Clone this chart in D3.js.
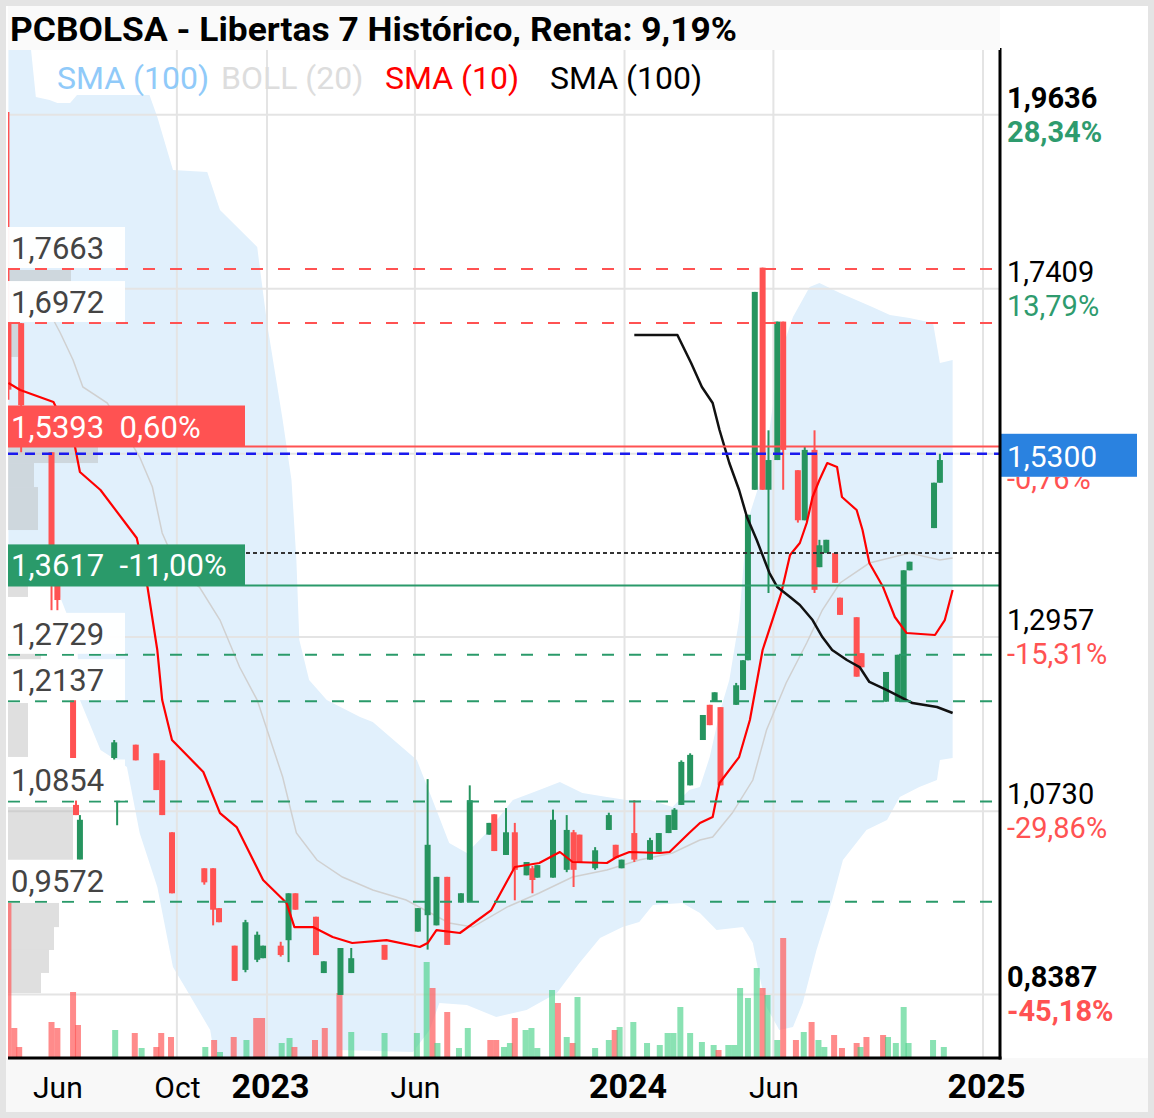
<!DOCTYPE html>
<html><head><meta charset="utf-8">
<script src="https://cdn.jsdelivr.net/npm/d3@7"></script>
<style>
html,body{margin:0;padding:0;background:#fff;}
svg{display:block;font-family:Roboto,"Noto Sans",sans-serif;}
</style></head>
<body>
<svg id="chart" width="1154" height="1118"></svg>
<script>
// ---------------- DATA ----------------
const title = "PCBOLSA - Libertas 7 Histórico, Renta: 9,19%";
const legendItems = [
  {label: "SMA (100)", color: "#90caf9"},
  {label: "BOLL (20)", color: "#dddddd"},
  {label: "SMA (10)",  color: "#ff0000"},
  {label: "SMA (100)", color: "#000000"}
];
const tickDates  = ["2022-06-01","2022-10-01","2023-01-01","2023-06-01","2024-01-01","2024-06-01","2025-01-01"];
const tickLabels = ["Jun","Oct","2023","Jun","2024","Jun","2025"];

// [date, open, high, low, close]
const candles = [
 ["2022-04-12",1.700,1.967,1.599,1.612],
 ["2022-04-25",1.697,1.697,1.532,1.592],
 ["2022-05-26",1.532,1.532,1.330,1.365],
 ["2022-06-01",1.371,1.375,1.330,1.343],
 ["2022-06-17",1.215,1.215,1.141,1.141],
 ["2022-06-20",1.081,1.087,1.068,1.068],
 ["2022-06-24",1.011,1.068,1.011,1.062],
 ["2022-07-29",1.141,1.164,1.138,1.161],
 ["2022-08-01",1.085,1.087,1.055,1.087],
 ["2022-08-20",1.158,1.158,1.138,1.138],
 ["2022-09-10",1.147,1.147,1.100,1.100],
 ["2022-09-16",1.138,1.138,1.068,1.068],
 ["2022-09-26",1.046,1.046,0.968,0.968],
 ["2022-10-29",1.000,1.000,0.979,0.982],
 ["2022-11-07",1.000,1.000,0.927,0.947],
 ["2022-11-13",0.949,0.949,0.931,0.931],
 ["2022-11-29",0.901,0.901,0.856,0.856],
 ["2022-12-10",0.870,0.934,0.867,0.931],
 ["2022-12-22",0.883,0.919,0.880,0.915],
 ["2022-12-28",0.885,0.901,0.885,0.901],
 ["2023-01-15",0.901,0.906,0.887,0.889],
 ["2023-01-23",0.908,0.968,0.880,0.968],
 ["2023-01-30",0.968,0.968,0.947,0.947],
 ["2023-02-20",0.938,0.938,0.889,0.889],
 ["2023-02-28",0.866,0.881,0.866,0.881],
 ["2023-03-17",0.838,0.898,0.838,0.898],
 ["2023-03-28",0.866,0.898,0.866,0.885],
 ["2023-05-01",0.902,0.902,0.883,0.883],
 ["2023-06-04",0.919,0.949,0.919,0.949],
 ["2023-06-14",0.940,1.114,0.896,1.030],
 ["2023-06-23",0.927,0.989,0.927,0.989],
 ["2023-07-04",0.989,0.989,0.902,0.902],
 ["2023-07-18",0.956,0.968,0.956,0.968],
 ["2023-07-27",0.957,1.106,0.957,1.087],
 ["2023-08-16",1.043,1.058,1.043,1.058],
 ["2023-08-21",1.069,1.069,1.022,1.022],
 ["2023-09-02",1.017,1.077,1.017,1.046],
 ["2023-09-11",1.046,1.058,0.959,0.998],
 ["2023-09-23",0.991,1.008,0.991,1.008],
 ["2023-09-29",1.000,1.003,0.968,0.985],
 ["2023-10-04",0.988,1.004,0.988,1.004],
 ["2023-10-20",0.988,1.075,0.988,1.062],
 ["2023-11-03",0.998,1.068,0.995,1.049],
 ["2023-11-10",1.046,1.049,0.976,0.998],
 ["2023-11-16",1.043,1.043,1.008,1.008],
 ["2023-12-02",1.000,1.027,0.998,1.023],
 ["2023-12-16",1.049,1.071,1.049,1.068],
 ["2023-12-23",1.030,1.030,1.013,1.013],
 ["2023-12-29",1.000,1.011,1.000,1.011],
 ["2024-01-11",1.045,1.087,1.008,1.011],
 ["2024-01-27",1.011,1.039,1.011,1.036],
 ["2024-02-05",1.021,1.045,1.021,1.045],
 ["2024-02-15",1.045,1.068,1.045,1.068],
 ["2024-02-21",1.049,1.077,1.049,1.075],
 ["2024-02-28",1.081,1.138,1.081,1.136],
 ["2024-03-08",1.106,1.147,1.106,1.145],
 ["2024-03-21",1.164,1.196,1.164,1.196],
 ["2024-03-28",1.209,1.209,1.183,1.183],
 ["2024-04-02",1.213,1.225,1.213,1.225],
 ["2024-04-08",1.206,1.206,1.106,1.106],
 ["2024-04-24",1.209,1.237,1.209,1.234],
 ["2024-05-01",1.228,1.266,1.228,1.266],
 ["2024-05-06",1.266,1.452,1.266,1.452],
 ["2024-05-13",1.484,1.737,1.484,1.737],
 ["2024-05-21",1.768,1.768,1.484,1.484],
 ["2024-05-27",1.484,1.560,1.352,1.522],
 ["2024-06-05",1.522,1.699,1.522,1.699],
 ["2024-06-11",1.699,1.699,1.484,1.535],
 ["2024-06-26",1.509,1.509,1.442,1.445],
 ["2024-07-03",1.445,1.539,1.445,1.535],
 ["2024-07-13",1.535,1.560,1.352,1.356],
 ["2024-07-18",1.385,1.420,1.385,1.413],
 ["2024-07-25",1.403,1.420,1.403,1.420],
 ["2024-08-03",1.403,1.403,1.365,1.365],
 ["2024-08-08",1.346,1.346,1.324,1.324],
 ["2024-08-25",1.321,1.321,1.245,1.245],
 ["2024-08-30",1.275,1.275,1.257,1.257],
 ["2024-09-24",1.213,1.251,1.213,1.251],
 ["2024-10-06",1.213,1.273,1.213,1.273],
 ["2024-10-12",1.213,1.381,1.213,1.381],
 ["2024-10-18",1.381,1.392,1.381,1.392],
 ["2024-11-12",1.435,1.493,1.435,1.493],
 ["2024-11-18",1.493,1.530,1.493,1.522]
];

// [date, volume, direction(1 up / -1 down)]
const volumes = [
 ["2022-04-12",15500,-1],["2022-04-18",3000,-1],["2022-04-23",1100,-1],["2022-05-26",3600,-1],
 ["2022-06-01",3000,-1],["2022-06-17",6600,-1],["2022-06-22",3300,-1],["2022-07-30",2800,1],
 ["2022-08-19",2500,-1],["2022-08-26",1000,1],["2022-09-10",1100,-1],["2022-09-15",2500,-1],
 ["2022-09-25",2100,-1],["2022-10-30",1100,1],["2022-11-08",1800,-1],["2022-11-14",600,1],
 ["2022-11-28",2100,-1],["2022-12-11",1800,1],["2022-12-21",4000,-1],["2022-12-27",4000,-1],
 ["2023-01-16",1500,1],["2023-01-24",2000,1],["2023-01-29",1100,-1],["2023-02-19",1800,-1],
 ["2023-03-01",3000,-1],["2023-03-16",6500,-1],["2023-03-28",2600,1],["2023-05-01",2500,1],
 ["2023-06-03",2500,1],["2023-06-13",9600,1],["2023-06-19",7000,-1],["2023-06-24",1500,1],
 ["2023-07-04",4600,-1],["2023-07-16",1000,1],["2023-07-25",3000,1],["2023-08-17",1800,-1],
 ["2023-08-23",1800,-1],["2023-08-31",1100,1],["2023-09-06",1500,1],["2023-09-11",4000,-1],
 ["2023-09-22",2800,1],["2023-09-28",3000,1],["2023-10-04",1000,1],["2023-10-19",6800,1],
 ["2023-10-25",5500,-1],["2023-11-03",2100,1],["2023-11-09",1500,-1],["2023-11-14",6100,1],
 ["2023-12-02",1000,1],["2023-12-16",1800,1],["2023-12-22",2800,-1],["2023-12-27",3100,1],
 ["2024-01-10",3600,1],["2024-01-24",1500,1],["2024-02-06",1300,1],["2024-02-14",2500,1],
 ["2024-02-20",2500,1],["2024-02-27",5100,1],["2024-03-08",2500,1],["2024-03-20",1600,1],
 ["2024-04-01",1300,1],["2024-04-06",800,-1],["2024-04-16",1300,1],["2024-04-22",1300,1],
 ["2024-04-28",7000,1],["2024-05-06",6000,1],["2024-05-15",9000,1],["2024-05-21",7000,-1],
 ["2024-05-26",6300,1],["2024-06-05",1800,1],["2024-06-11",12000,-1],["2024-06-24",1800,-1],
 ["2024-07-02",2600,1],["2024-07-10",3600,-1],["2024-07-17",1800,1],["2024-07-23",1100,1],
 ["2024-08-02",2300,-1],["2024-08-10",1000,-1],["2024-08-25",1500,-1],["2024-08-29",1100,1],
 ["2024-09-04",2100,-1],["2024-09-21",2300,-1],["2024-09-26",2100,1],["2024-10-04",1500,1],
 ["2024-10-12",5100,1],["2024-10-17",1500,1],["2024-11-11",1800,1],["2024-11-22",1100,1]
];

const sma10 = [
 ["2022-04-12",1.6205],["2022-04-24",1.6116],["2022-05-28",1.5962],["2022-06-19",1.5387],
 ["2022-06-24",1.5067],["2022-07-15",1.4837],["2022-08-21",1.4223],["2022-09-01",1.3596],
 ["2022-09-11",1.2791],["2022-09-16",1.2151],["2022-09-26",1.1640],["2022-10-28",1.1231],
 ["2022-11-14",1.0706],["2022-12-01",1.0527],["2022-12-28",0.9850],["2023-01-21",0.9555],
 ["2023-01-29",0.9248],["2023-02-17",0.9248],["2023-03-09",0.9121],["2023-03-29",0.9044],
 ["2023-05-03",0.9082],["2023-06-06",0.8993],["2023-06-14",0.9044],["2023-06-23",0.9210],
 ["2023-07-17",0.9172],["2023-08-18",0.9466],["2023-09-11",1.0016],["2023-10-06",1.0067],
 ["2023-10-27",1.0208],["2023-11-09",1.0080],["2023-12-14",1.0067],["2023-12-24",1.0144],
 ["2024-01-06",1.0208],["2024-02-06",1.0195],["2024-02-16",1.0208],["2024-03-07",1.0451],
 ["2024-03-18",1.0578],["2024-03-31",1.0655],["2024-04-07",1.1090],["2024-04-27",1.1422],
 ["2024-05-08",1.1896],["2024-05-21",1.2791],["2024-05-31",1.3174],["2024-06-09",1.3520],
 ["2024-06-18",1.4006],["2024-06-28",1.4159],["2024-07-05",1.4415],["2024-07-11",1.4747],
 ["2024-07-18",1.4965],["2024-07-26",1.5182],["2024-08-05",1.5131],["2024-08-10",1.4747],
 ["2024-08-25",1.4581],["2024-08-31",1.4325],["2024-09-07",1.3903],["2024-09-21",1.3596],
 ["2024-10-03",1.3213],["2024-10-15",1.3008],["2024-11-13",1.2983],["2024-11-23",1.3174],
 ["2024-12-01",1.3558]
];

const sma100 = [
 ["2024-01-11",1.6819],["2024-02-24",1.6819],["2024-03-09",1.6461],["2024-03-20",1.6154],
 ["2024-03-31",1.5949],["2024-04-07",1.5604],["2024-04-17",1.5182],["2024-04-27",1.4837],
 ["2024-05-05",1.4492],["2024-05-15",1.4197],["2024-05-28",1.3775],["2024-06-05",1.3596],
 ["2024-06-18",1.3469],["2024-06-28",1.3366],["2024-07-11",1.3174],["2024-07-21",1.2957],
 ["2024-07-31",1.2791],["2024-08-15",1.2663],["2024-08-28",1.2573],["2024-09-07",1.2382],
 ["2024-09-25",1.2279],["2024-10-11",1.2177],["2024-10-21",1.2113],["2024-11-15",1.2062],
 ["2024-12-01",1.1985]
];

const bollMid = [
 ["2022-05-28",1.7011],["2022-06-04",1.6845],["2022-06-17",1.6499],["2022-06-27",1.6154],
 ["2022-07-22",1.5949],["2022-08-24",1.5259],["2022-09-06",1.4875],["2022-09-16",1.4287],
 ["2022-10-04",1.3775],["2022-10-24",1.3596],["2022-11-14",1.3174],["2022-12-04",1.2573],
 ["2022-12-22",1.2151],["2023-01-17",1.1167],["2023-01-31",1.0451],["2023-02-21",1.0105],
 ["2023-03-19",0.9888],["2023-04-19",0.9722],["2023-05-23",0.9594],["2023-07-06",0.9300],
 ["2023-07-30",0.9248],["2023-09-03",0.9504],["2023-10-06",0.9683],["2023-11-09",0.9888],
 ["2023-12-14",0.9977],["2024-01-16",1.0105],["2024-02-19",1.0195],["2024-03-18",1.0361],
 ["2024-03-31",1.0399],["2024-04-20",1.0706],["2024-05-11",1.1128],["2024-05-25",1.1768],
 ["2024-06-14",1.2369],["2024-07-05",1.2880],["2024-07-21",1.3302],["2024-08-08",1.3648],
 ["2024-09-07",1.3903],["2024-10-18",1.4031],["2024-11-18",1.3942],["2024-12-01",1.3967]
];

const bollUpper = [
 ["2022-04-12",2.06],["2022-05-04",2.06],["2022-05-10",1.9863],["2022-05-24",1.9824],
 ["2022-06-01",1.9786],["2022-06-14",1.9786],["2022-06-21",1.9888],["2022-09-03",1.9888],
 ["2022-09-11",1.9607],["2022-09-27",1.8929],["2022-11-01",1.8903],["2022-11-14",1.8417],
 ["2022-12-22",1.7944],["2022-12-25",1.7650],["2023-01-01",1.6972],["2023-01-17",1.5732],
 ["2023-01-26",1.4965],["2023-01-31",1.3942],["2023-02-03",1.2919],["2023-02-13",1.2407],
 ["2023-03-03",1.2151],["2023-04-06",1.1934],["2023-04-19",1.1870],["2023-06-03",1.1384],
 ["2023-06-19",1.0873],["2023-07-06",1.0323],["2023-07-24",1.0195],["2023-08-13",1.0451],
 ["2023-09-09",1.0873],["2023-10-06",1.1000],["2023-10-27",1.1103],["2023-11-19",1.0962],
 ["2023-12-14",1.0911],["2024-01-03",1.0873],["2024-01-27",1.0873],["2024-02-19",1.0783],
 ["2024-03-07",1.1000],["2024-03-18",1.1039],["2024-03-28",1.1422],["2024-04-07",1.1985],
 ["2024-04-17",1.2407],["2024-04-27",1.3174],["2024-05-05",1.4415],["2024-05-18",1.4926],
 ["2024-05-28",1.5604],["2024-06-07",1.6538],["2024-06-21",1.7049],["2024-07-08",1.7433],
 ["2024-07-18",1.7484],["2024-08-08",1.7356],["2024-09-10",1.7177],["2024-09-28",1.7075],
 ["2024-10-18",1.7036],["2024-11-11",1.6972],["2024-11-18",1.6461],["2024-12-01",1.6499]
];

const bollLower = [
 ["2022-04-12",1.3942],["2022-05-14",1.3750],["2022-06-01",1.3558],["2022-06-21",1.2919],
 ["2022-06-24",1.2151],["2022-07-15",1.1512],["2022-08-11",1.1295],["2022-08-24",1.0451],
 ["2022-09-11",0.9760],["2022-09-27",0.8737],["2022-10-11",0.8443],["2022-11-04",0.7931],
 ["2022-11-14",0.7164],["2023-03-06",0.7164],["2023-03-16",0.7676],["2023-05-30",0.7650],
 ["2023-06-16",0.7931],["2023-06-26",0.8277],["2023-07-24",0.8251],["2023-08-23",0.8098],
 ["2023-09-23",0.8187],["2023-10-24",0.8404],["2023-11-16",0.8788],["2023-12-07",0.9108],
 ["2023-12-30",0.9248],["2024-01-16",0.9312],["2024-01-30",0.9530],["2024-02-29",0.9555],
 ["2024-03-18",0.9428],["2024-04-04",0.9210],["2024-05-01",0.9248],["2024-05-11",0.9044],
 ["2024-05-18",0.8609],["2024-05-25",0.8225],["2024-06-07",0.7931],["2024-06-21",0.7970],
 ["2024-07-01",0.8277],["2024-07-15",0.8954],["2024-07-31",0.9594],["2024-08-11",1.0105],
 ["2024-09-04",1.0489],["2024-09-25",1.0617],["2024-10-08",1.0911],["2024-10-28",1.1039],
 ["2024-11-15",1.1128],["2024-11-18",1.1384],["2024-12-01",1.1410]
];

// volume-by-price profile: [price high, price low, volume]
const profile = [
 [1.7650,1.7497,63],[1.6972,1.6538,10],[1.5412,1.5182,90],[1.5182,1.4875,26],
 [1.4875,1.4325,30],[1.3724,1.3469,20],[1.2791,1.2663,33],[1.2113,1.1423,20],
 [1.0783,1.0105,65],[0.9556,0.9248,51],[0.9248,0.8955,46],[0.8955,0.8661,41],
 [0.8661,0.8404,33]
];

const resistLevels = [1.7663, 1.6972];
const supportLevels = [1.2729, 1.2137, 1.0854, 0.9572];
const lastPrice = 1.5300;
const refRed   = {value: 1.5393, pct: "0,60%"};
const refGreen = {value: 1.3617, pct: "-11,00%"};
const dottedLevel = 1.4031;

// right axis labels
const rightValues = [1.9636, 1.7409, 1.5300, 1.2957, 1.0730, 0.8387];
const rightPcts   = ["28,34%","13,79%","-0,76%","-15,31%","-29,86%","-45,18%"];
const rightBold   = [true,false,false,false,false,true];

// ---------------- DRAW ----------------
const W = 1154, H = 1118;
const L = 8, R = 1000, T = 50, B = 1058;
const parse = d3.utcParse("%Y-%m-%d");
const GREEN = "#26945f", RED = "#ff5252";
const fmt = v => v.toFixed(4).replace(".", ",");

const x = d3.scaleUtc().domain([parse("2023-01-01"), parse("2025-01-01")]).range([267, 983]);
const y = d3.scaleLinear().domain([0.8387, 1.9636]).range([994.4, 114.7]);
const yv = d3.scaleLinear().domain([0, 16000]).range([B, B - 160]);
const xp = d3.scaleLinear().domain([0, 100]).range([L, L + 100]);

const svg = d3.select("#chart");
// frame
svg.append("rect").attr("width", W).attr("height", H).attr("fill", "#e4e4e4");
svg.append("rect").attr("x", 6).attr("y", 6).attr("width", W - 12).attr("height", H - 12).attr("fill", "#fff");
svg.append("rect").attr("x", 6).attr("y", B).attr("width", W - 12).attr("height", H - 6 - B).attr("fill", "#f8f8f8");

const defs = svg.append("defs");
defs.append("clipPath").attr("id", "plotclip").append("rect")
  .attr("x", L).attr("y", T).attr("width", R - L).attr("height", B - T);

const plot = svg.append("g").attr("clip-path", "url(#plotclip)");

// Bollinger band fill
const bandPts = bollUpper.map(d => [x(parse(d[0])), y(d[1])])
  .concat(bollLower.slice().reverse().map(d => [x(parse(d[0])), y(d[1])]));
plot.append("path").attr("d", d3.line()(bandPts) + "Z").attr("fill", "#e1f0fc");

// grid
plot.selectAll(".hg").data(rightValues).join("line")
  .attr("x1", L).attr("x2", R).attr("y1", d => y(d)).attr("y2", d => y(d))
  .attr("stroke", "#e4e4e4").attr("stroke-width", 2);
plot.selectAll(".vg").data(tickDates.slice(1)).join("line")
  .attr("x1", d => x(parse(d))).attr("x2", d => x(parse(d))).attr("y1", T).attr("y2", B)
  .attr("stroke", "#e4e4e4").attr("stroke-width", 2);

// volume profile
plot.selectAll(".prof").data(profile).join("rect")
  .attr("x", L).attr("y", d => y(d[0])).attr("width", d => xp(d[2]) - L)
  .attr("height", d => y(d[1]) - y(d[0]))
  .attr("fill", "#b8b8b8").attr("opacity", 0.45);

// volume bars
plot.selectAll(".vol").data(volumes).join("rect")
  .attr("x", d => x(parse(d[0])) - 3).attr("width", 6)
  .attr("y", d => yv(d[1])).attr("height", d => B - yv(d[1]))
  .attr("fill", d => d[2] > 0 ? "#3ccf80" : "#ff5a5a")
  .attr("opacity", d => d[2] > 0 ? 0.6 : 0.7);

// boll middle line
const lineGen = d3.line().x(d => x(parse(d[0]))).y(d => y(d[1]));
plot.append("path").attr("d", lineGen(bollMid)).attr("fill", "none")
  .attr("stroke", "#d0d0d0").attr("stroke-width", 1.5);

// candles
const cg = plot.append("g");
cg.selectAll(".wick").data(candles).join("line")
  .attr("x1", d => x(parse(d[0]))).attr("x2", d => x(parse(d[0])))
  .attr("y1", d => y(d[2])).attr("y2", d => y(d[3]))
  .attr("stroke", d => d[4] >= d[1] ? GREEN : RED).attr("stroke-width", 2);
cg.selectAll(".body").data(candles).join("rect")
  .attr("x", d => x(parse(d[0])) - 3).attr("width", 6)
  .attr("y", d => y(Math.max(d[1], d[4])))
  .attr("height", d => Math.max(2, Math.abs(y(d[1]) - y(d[4]))))
  .attr("fill", d => d[4] >= d[1] ? GREEN : RED);

// SMA lines
plot.append("path").attr("d", lineGen(sma10)).attr("fill", "none")
  .attr("stroke", "#ff0000").attr("stroke-width", 2.2).attr("stroke-linejoin", "round");
plot.append("path").attr("d", lineGen(sma100)).attr("fill", "none")
  .attr("stroke", "#111").attr("stroke-width", 2.5).attr("stroke-linejoin", "round");

// level lines
plot.selectAll(".res").data(resistLevels).join("line")
  .attr("x1", L).attr("x2", R).attr("y1", d => y(d)).attr("y2", d => y(d))
  .attr("stroke", "#ff5252").attr("stroke-width", 2).attr("stroke-dasharray", "12,15");
plot.selectAll(".sup").data(supportLevels).join("line")
  .attr("x1", L).attr("x2", R).attr("y1", d => y(d)).attr("y2", d => y(d))
  .attr("stroke", "#2a9a6a").attr("stroke-width", 2).attr("stroke-dasharray", "12,15");
plot.append("line").attr("x1", L).attr("x2", R).attr("y1", y(dottedLevel)).attr("y2", y(dottedLevel))
  .attr("stroke", "#333").attr("stroke-width", 2).attr("stroke-dasharray", "4,3");
plot.append("line").attr("x1", L).attr("x2", R).attr("y1", y(refRed.value)).attr("y2", y(refRed.value))
  .attr("stroke", "#ff5252").attr("stroke-width", 2);
plot.append("line").attr("x1", L).attr("x2", R).attr("y1", y(refGreen.value)).attr("y2", y(refGreen.value))
  .attr("stroke", "#2a9a6a").attr("stroke-width", 2);
plot.append("line").attr("x1", L).attr("x2", R).attr("y1", y(lastPrice)).attr("y2", y(lastPrice))
  .attr("stroke", "#1a1aee").attr("stroke-width", 2.5).attr("stroke-dasharray", "10,7");

// level labels (left)
const lvlLabels = resistLevels.concat(supportLevels);
const lg = svg.append("g");
lg.selectAll("rect").data(lvlLabels).join("rect")
  .attr("x", L).attr("width", 117).attr("y", d => y(d) - 42).attr("height", 41)
  .attr("fill", "#fff").attr("opacity", 0.95);
lg.selectAll("text").data(lvlLabels).join("text")
  .attr("x", 11).attr("y", d => y(d) - 10).text(d => fmt(d))
  .attr("font-size", 31).attr("fill", "#444");

// reference boxes
[[refRed, "#ff5252"], [refGreen, "#2a9a6a"]].forEach(([r, c]) => {
  const yy = y(r.value);
  svg.append("rect").attr("x", L).attr("y", yy - 41).attr("width", 237).attr("height", 41).attr("fill", c);
  svg.append("text").attr("x", 11).attr("y", yy - 9).attr("font-size", 31).attr("fill", "#fff")
    .attr("xml:space", "preserve").text(fmt(r.value) + "  " + r.pct);
});

// right axis labels
const ra = svg.append("g");
defs.append("clipPath").attr("id", "pctclip").append("rect")
  .attr("x", R).attr("y", y(lastPrice) + 23).attr("width", 154).attr("height", 40);
rightValues.forEach((v, i) => {
  const yy = y(v);
  const col = i < 2 ? "#2e9b6e" : "#ff5252";
  const bw = rightBold[i] ? "bold" : "normal";
  if (v === lastPrice) {
    ra.append("text").attr("x", 1007).attr("y", yy + 35).attr("font-size", 29)
      .attr("fill", col).attr("clip-path", "url(#pctclip)").text(rightPcts[i]);
    ra.append("rect").attr("x", 1000).attr("y", yy - 20).attr("width", 137).attr("height", 43).attr("fill", "#2a82e0");
    ra.append("text").attr("x", 1007).attr("y", yy + 13).attr("font-size", 30).attr("fill", "#fff").text(fmt(v));
  } else {
    ra.append("text").attr("x", 1007).attr("y", yy + 27).attr("font-size", 29)
      .attr("font-weight", bw).attr("fill", col).text(rightPcts[i]);
    ra.append("text").attr("x", 1007).attr("y", yy - 7).attr("font-size", 29)
      .attr("font-weight", bw).attr("fill", "#000").text(fmt(v));
  }
});

// axes lines
svg.append("line").attr("x1", R).attr("x2", R).attr("y1", 48).attr("y2", B + 1.5)
  .attr("stroke", "#000").attr("stroke-width", 3);
svg.append("line").attr("x1", L).attr("x2", R + 1.5).attr("y1", B).attr("y2", B)
  .attr("stroke", "#000").attr("stroke-width", 3);

// x axis labels
const xAxis = d3.axisBottom(x).tickValues(tickDates.map(parse))
  .tickFormat((d, i) => tickLabels[i]).tickSize(0).tickPadding(0);
const ax = svg.append("g").attr("transform", `translate(0,${B})`).call(xAxis);
ax.select(".domain").remove();
ax.selectAll("text")
  .attr("y", 40).attr("dy", 0)
  .attr("font-family", "Roboto, sans-serif")
  .attr("font-size", (d, i) => /^\d/.test(tickLabels[i]) ? 34 : 30)
  .attr("font-weight", (d, i) => /^\d/.test(tickLabels[i]) ? "bold" : "normal")
  .attr("fill", "#000")
  .attr("dx", (d, i) => /^\d/.test(tickLabels[i]) ? 3 : 0);

// title
svg.append("rect").attr("x", L).attr("y", 6).attr("width", R - L).attr("height", T - 6).attr("fill", "#fafafa");
svg.append("text").attr("x", 10).attr("y", 41).attr("font-size", 33).attr("font-weight", "bold")
  .attr("fill", "#000").attr("textLength", 727).attr("lengthAdjust", "spacingAndGlyphs").text(title);

// legend
const legX = [57, 221, 385, 550];
svg.selectAll(".leg").data(legendItems).join("text")
  .attr("x", (d, i) => legX[i]).attr("y", 89).attr("font-size", 32)
  .attr("fill", d => d.color).text(d => d.label);
</script>
</body></html>
